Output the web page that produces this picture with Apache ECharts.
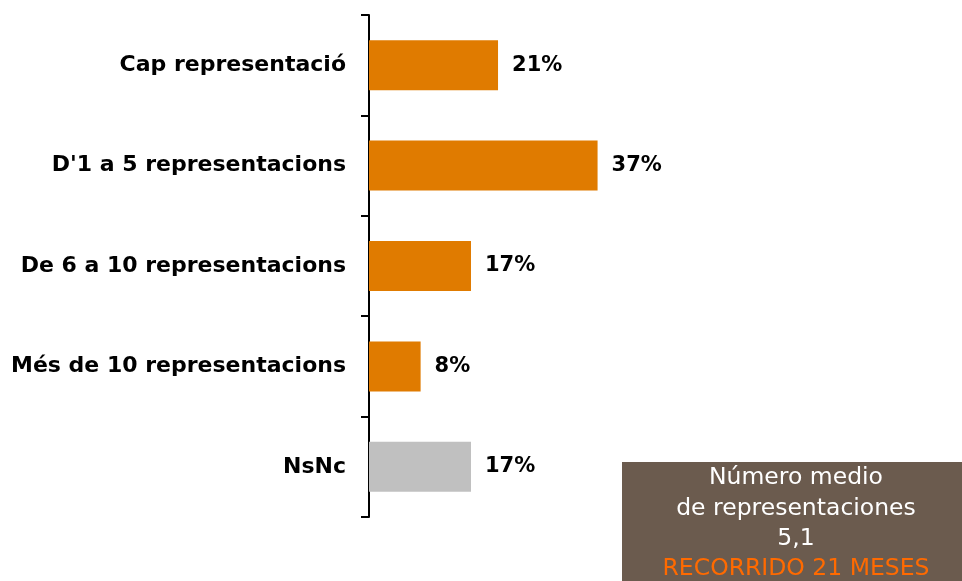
<!DOCTYPE html>
<html>
<head>
<meta charset="utf-8">
<script src="https://cdn.jsdelivr.net/npm/echarts@6/dist/echarts.min.js"></script>
<style>
  html, body { margin: 0; padding: 0; background: #fff; }
  #chart { width: 962px; height: 581px; }
</style>
</head>
<body>
<div id="chart"></div>
<script>
const categories = ['Cap representació', "D'1 a 5 representacions", 'De 6 a 10 representacions', 'Més de 10 representacions', 'NsNc']
const values = [21.0, 37.2, 16.6, 8.4, 16.6]
const barColors = ['#e07b00', '#e07b00', '#e07b00', '#e07b00', '#c0c0c0']
const boxLines = ['Número medio', 'de representaciones', '5,1']
const boxHighlight = 'RECORRIDO 21 MESES'

const chart = echarts.init(document.getElementById('chart'))
const labelFont = '"DejaVu Sans", sans-serif'

chart.setOption({
  animation: false,
  grid: { left: 369, top: 15, width: 553, height: 502, containLabel: false },
  xAxis: {
    type: 'value',
    min: 0,
    max: 90,
    show: false
  },
  yAxis: {
    type: 'category',
    inverse: true,
    data: categories,
    axisLine: { lineStyle: { color: '#000', width: 2 } },
    axisTick: { show: true, length: 8, lineStyle: { color: '#000', width: 2 } },
    axisLabel: { color: '#000', fontSize: 22, fontWeight: 'bold', fontFamily: labelFont, margin: 23 }
  },
  series: [{
    type: 'bar',
    barWidth: 50,
    data: values.map((v, i) => ({ value: v, itemStyle: { color: barColors[i] } })),
    label: {
      show: true,
      position: 'right',
      distance: 14,
      color: '#000',
      fontSize: 21,
      fontWeight: 'bold',
      fontFamily: labelFont,
      formatter: p => Math.round(p.value) + '%'
    }
  }],
  graphic: [{
    type: 'group',
    left: 622,
    top: 462,
    children: [
      { type: 'rect', shape: { x: 0, y: 0, width: 345, height: 125 }, style: { fill: '#6b5b4e' } },
      ...boxLines.map((t, i) => ({
        type: 'text',
        x: 174, y: 16 + i * 30.5,
        style: { text: t, fill: '#fff', fontSize: 23.5, fontFamily: labelFont, textAlign: 'center', textVerticalAlign: 'middle' }
      })),
      {
        type: 'text',
        x: 174, y: 107,
        style: { text: boxHighlight, fill: '#ff6a00', fontSize: 23.5, fontFamily: labelFont, textAlign: 'center', textVerticalAlign: 'middle' }
      }
    ]
  }]
})
</script>
</body>
</html>
